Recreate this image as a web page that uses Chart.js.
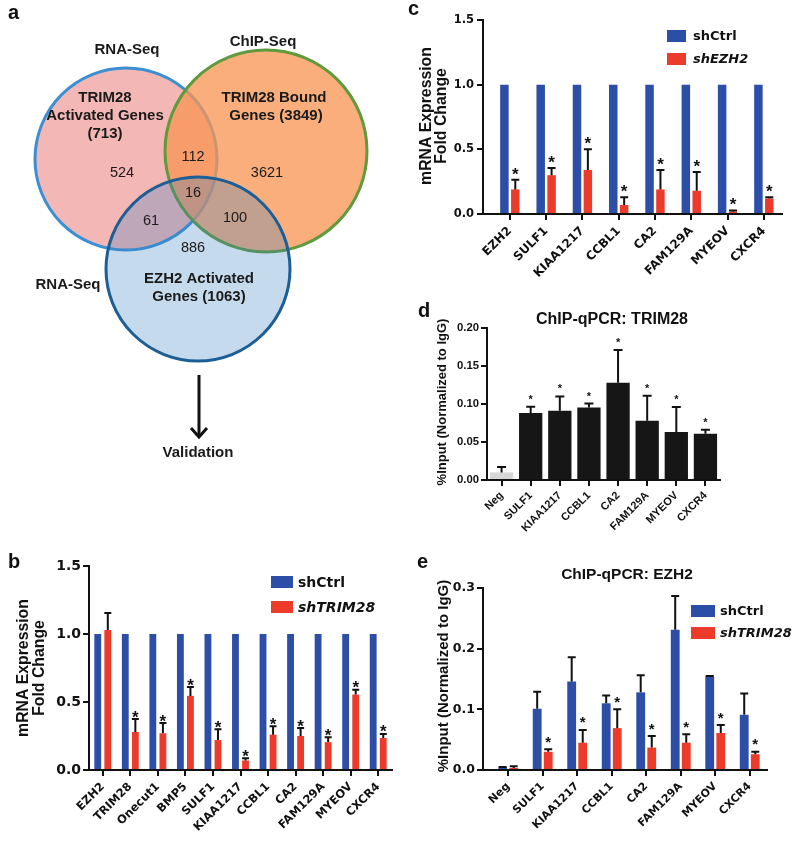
<!DOCTYPE html>
<html><head><meta charset="utf-8">
<script src="https://cdn.jsdelivr.net/npm/chart.js@4.4.1/dist/chart.umd.min.js"></script>
<style>
html,body{margin:0;padding:0;background:#fff;}
#wrap{position:relative;width:800px;height:843px;overflow:hidden;background:#fff;}
canvas{position:absolute;}
</style></head><body>
<div id="wrap">
<canvas id="ca" width="400" height="470" style="left:0;top:0"></canvas>
<canvas id="cb" width="400" height="303" style="left:0;top:540px"></canvas>
<canvas id="cc" width="400" height="300" style="left:400px;top:0"></canvas>
<canvas id="cd" width="400" height="240" style="left:400px;top:300px"></canvas>
<canvas id="ce" width="400" height="303" style="left:400px;top:540px"></canvas>
</div>
<script>
// ---------------- DATA ----------------
// Panel a: Venn diagram
const vennSetNames = ['TRIM28 Activated Genes', 'TRIM28 Bound Genes', 'EZH2 Activated Genes'];
const vennSetSizes = [713, 3849, 1063];
const vennSetSources = ['RNA-Seq', 'ChIP-Seq', 'RNA-Seq'];
// region counts: A only, B only, C only, A∩B, A∩C, B∩C, A∩B∩C
const vennRegionCounts = [524, 3621, 886, 112, 61, 100, 16];

// Panel b
const bGenes = ['EZH2','TRIM28','Onecut1','BMP5','SULF1','KIAA1217','CCBL1','CA2','FAM129A','MYEOV','CXCR4'];
const bShCtrl = [1,1,1,1,1,1,1,1,1,1,1];
const bShTRIM28 = [1.03,0.28,0.27,0.545,0.22,0.07,0.26,0.25,0.205,0.555,0.235];
const bShTRIM28Err = [1.155,0.375,0.345,0.61,0.30,0.086,0.322,0.308,0.24,0.59,0.265];
const bSig = [false,true,true,true,true,true,true,true,true,true,true];

// Panel c
const cGenes = ['EZH2','SULF1','KIAA1217','CCBL1','CA2','FAM129A','MYEOV','CXCR4'];
const cShCtrl = [1,1,1,1,1,1,1,1];
const cShEZH2 = [0.19,0.30,0.34,0.07,0.19,0.18,0.018,0.12];
const cShEZH2Err = [0.265,0.355,0.50,0.13,0.34,0.325,0.028,0.13];
const cSig = [true,true,true,true,true,true,true,true];

// Panel d
const dTargets = ['Neg','SULF1','KIAA1217','CCBL1','CA2','FAM129A','MYEOV','CXCR4'];
const dTRIM28 = [0.010,0.088,0.091,0.0955,0.128,0.078,0.063,0.061];
const dTRIM28Err = [0.017,0.0965,0.110,0.1005,0.171,0.111,0.096,0.066];
const dSig = [false,true,true,true,true,true,true,true];

// Panel e
const eTargets = ['Neg','SULF1','KIAA1217','CCBL1','CA2','FAM129A','MYEOV','CXCR4'];
const eShCtrl = [0.0044,0.101,0.146,0.110,0.128,0.231,0.154,0.091];
const eShCtrlErr = [0.005,0.129,0.186,0.123,0.156,0.287,0.155,0.126];
const eShTRIM28 = [0.0033,0.030,0.045,0.069,0.037,0.045,0.061,0.026];
const eShTRIM28Err = [0.006,0.034,0.066,0.100,0.056,0.059,0.074,0.030];
const eSig = [false,true,true,true,true,true,true,true];

// ---------------- STYLE ----------------
const BLUE = '#2D4EA6', RED = '#EC3B2A', INK = '#111111';
const DJ = '"DejaVu Sans", sans-serif';
const LS = '"Liberation Sans", Arial, sans-serif';

// ---------------- PLUGINS ----------------
const panelText = {
  id: 'panelText',
  afterDraw(chart, args, opts) {
    const ctx = chart.ctx;
    (opts.items || []).forEach(it => {
      ctx.save();
      ctx.font = it.font;
      ctx.fillStyle = it.color || INK;
      ctx.textAlign = it.align || 'center';
      ctx.textBaseline = it.baseline || 'middle';
      ctx.translate(it.x, it.y);
      if (it.rotate) ctx.rotate(it.rotate);
      ctx.fillText(it.text, 0, 0);
      ctx.restore();
    });
  }
};

const legendBox = {
  id: 'legendBox',
  afterDraw(chart, args, opts) {
    if (!opts || opts.x === undefined) return;
    const ctx = chart.ctx;
    chart.data.datasets.forEach((ds, i) => {
      const y = opts.y + i * opts.gap;
      ctx.save();
      ctx.fillStyle = ds.backgroundColor;
      ctx.fillRect(opts.x, y, opts.w, opts.h);
      ctx.fillStyle = INK;
      ctx.font = (ds.legendItalic ? 'italic ' : '') + 'bold ' + opts.size + 'px ' + DJ;
      ctx.textAlign = 'left';
      ctx.textBaseline = 'middle';
      ctx.fillText(ds.label, opts.x + opts.w + opts.textGap, y + opts.h / 2 + 1);
      ctx.restore();
    });
  }
};

const errBars = {
  id: 'errBars',
  afterDatasetsDraw(chart, args, opts) {
    const ctx = chart.ctx, ys = chart.scales.y;
    chart.data.datasets.forEach((ds, i) => {
      if (!ds.errUpper) return;
      const meta = chart.getDatasetMeta(i);
      meta.data.forEach((bar, j) => {
        const top = ys.getPixelForValue(ds.errUpper[j]);
        ctx.save();
        ctx.strokeStyle = opts.color || INK;
        ctx.lineWidth = opts.lineWidth;
        ctx.beginPath();
        ctx.moveTo(bar.x, bar.y);
        ctx.lineTo(bar.x, top);
        ctx.moveTo(bar.x - opts.cap / 2, top);
        ctx.lineTo(bar.x + opts.cap / 2, top);
        ctx.stroke();
        if (ds.sig && ds.sig[j]) {
          ctx.fillStyle = INK;
          ctx.font = opts.starFont;
          ctx.textAlign = 'center';
          ctx.textBaseline = 'alphabetic';
          ctx.fillText('*', bar.x, top - opts.starGap);
        }
        ctx.restore();
      });
    });
  }
};

const vennDecor = {
  id: 'vennDecor',
  afterDraw(chart, args, opts) {
    const ctx = chart.ctx, xs = chart.scales.x, ys = chart.scales.y;
    const a = opts.arrow;
    const x = xs.getPixelForValue(a.x), y0 = ys.getPixelForValue(a.y0), y1 = ys.getPixelForValue(a.y1);
    ctx.save();
    ctx.strokeStyle = INK; ctx.lineWidth = 3; ctx.lineCap = 'butt';
    ctx.beginPath(); ctx.moveTo(x, y0); ctx.lineTo(x, y1 - 1); ctx.stroke();
    ctx.beginPath(); ctx.moveTo(x - a.head, y1 - a.head - 1); ctx.lineTo(x, y1); ctx.lineTo(x + a.head, y1 - a.head - 1); ctx.stroke();
    ctx.restore();
    (opts.labels || []).forEach(it => {
      ctx.save();
      ctx.font = it.font; ctx.fillStyle = '#1a1a1a';
      ctx.textAlign = 'center'; ctx.textBaseline = 'middle';
      ctx.fillText(it.text, xs.getPixelForValue(it.x), ys.getPixelForValue(it.y));
      ctx.restore();
    });
  }
};

// ---------------- PANEL a (Venn) ----------------
const vennLayout = {
  circles: [ {cx:126, cy:159, r:91}, {cx:266, cy:151, r:101}, {cx:198, cy:269, r:92} ],
  fills: ['rgb(243,183,181)', 'rgba(247,150,85,0.77)', 'rgba(60,128,194,0.29)'],
  borders: ['#3b8fd3', '#5f9a3c', '#1c5e96'],
  regionPos: [[122,173],[267,173],[193,248],[193,157],[151,221],[235,218],[193,193]],
  setTitlePos: [[[105,98],[105,116],[105,134]], [[274,98],[276,116]], [[199,279],[199,297]]],
  sourcePos: [[127,50],[263,42],[68,285]]
};
const setTitleLines = [
  ['TRIM28', 'Activated Genes', '(' + vennSetSizes[0] + ')'],
  ['TRIM28 Bound', 'Genes (' + vennSetSizes[1] + ')'],
  ['EZH2 Activated', 'Genes (' + vennSetSizes[2] + ')']
];
const vennLabels = [];
const fBold = 'bold 15px ' + LS, fReg = '14.5px ' + LS;
vennSetSources.forEach((s, i) => vennLabels.push({text:s, x:vennLayout.sourcePos[i][0], y:vennLayout.sourcePos[i][1], font:fBold}));
setTitleLines.forEach((lines, i) => lines.forEach((t, k) => vennLabels.push({text:t, x:vennLayout.setTitlePos[i][k][0], y:vennLayout.setTitlePos[i][k][1], font:fBold})));
vennRegionCounts.forEach((n, i) => vennLabels.push({text:String(n), x:vennLayout.regionPos[i][0], y:vennLayout.regionPos[i][1], font:fReg}));
vennLabels.push({text:'Validation', x:198, y:453, font:fBold});

new Chart(document.getElementById('ca'), {
  type: 'bubble',
  data: {
    datasets: vennSetNames.map((name, i) => ({
      label: name,
      data: [{x: vennLayout.circles[i].cx, y: vennLayout.circles[i].cy, r: vennLayout.circles[i].r}],
      backgroundColor: vennLayout.fills[i],
      borderColor: vennLayout.borders[i],
      borderWidth: 3,
      clip: false,
      order: 3 - i
    }))
  },
  options: {
    responsive: false, animation: false, devicePixelRatio: 1, events: [],
    layout: {padding: 0, autoPadding: false},
    scales: {
      x: {type:'linear', min:0, max:400, display:false},
      y: {type:'linear', min:0, max:470, reverse:true, display:false}
    },
    plugins: {
      legend: {display:false}, tooltip: {enabled:false},
      vennDecor: {arrow: {x:199, y0:375, y1:437, head:8}, labels: vennLabels},
      panelText: {items: [{text:'a', x:8, y:19, font:'bold 20px ' + LS, align:'left', baseline:'alphabetic'}]}
    }
  },
  plugins: [vennDecor, panelText]
});

// ---------------- BAR CHART FACTORY ----------------
function barChart(id, cfg) {
  return new Chart(document.getElementById(id), {
    type: 'bar',
    data: {labels: cfg.labels, datasets: cfg.datasets},
    options: {
      responsive: false, animation: false, devicePixelRatio: 1, events: [],
      layout: {padding: cfg.padding, autoPadding: false},
      scales: {
        x: {
          type: 'category', offset: true,
          grid: {offset:false, drawOnChartArea:false, drawTicks:true, tickLength:6, color:INK, lineWidth:2},
          border: {display:true, color:INK, width:2},
          ticks: {autoSkip:false, minRotation:45, maxRotation:45, padding:cfg.xPad, color:INK, font:cfg.xFont},
          afterBuildTicks(s) { if (cfg.gap) { s._startValue -= cfg.gap; s._valueRange += cfg.gap; } },
          afterFit(s) { s.height = cfg.xHeight; }
        },
        y: {
          min: cfg.yMin, max: cfg.yMax,
          grid: {drawOnChartArea:false, drawTicks:true, tickLength:6, color:INK, lineWidth:2},
          border: {display:true, color:INK, width:2},
          ticks: {stepSize: cfg.yStep, padding:cfg.yPad || 2, color:INK, font:cfg.yFont, callback: v => Number(v).toFixed(cfg.yDec)},
          afterFit(s) { s.width = cfg.yWidth; }
        }
      },
      plugins: {
        legend: {display:false}, tooltip: {enabled:false},
        errBars: cfg.err,
        legendBox: cfg.legend || {},
        panelText: {items: cfg.texts}
      }
    },
    plugins: [errBars, legendBox, panelText]
  });
}

// ---------------- PANEL b ----------------
barChart('cb', {
  labels: bGenes,
  datasets: [
    {label:'shCtrl', data:bShCtrl, backgroundColor:BLUE, borderWidth:0, categoryPercentage:0.73, barPercentage:0.68},
    {label:'shTRIM28', data:bShTRIM28, errUpper:bShTRIM28Err, sig:bSig, legendItalic:true, backgroundColor:RED, borderWidth:0, categoryPercentage:0.73, barPercentage:0.68}
  ],
  padding: {top:26, right:8, left:0, bottom:0},
  yMin:0, yMax:1.5, yStep:0.5, yDec:1, yWidth:89, xHeight:73, xPad:4,
  xFont: {family:DJ, size:11.5, weight:'bold'},
  yFont: {family:DJ, size:14, weight:'bold'},
  err: {lineWidth:2, cap:7, starFont:'bold 17px ' + LS, starGap:-3.5},
  legend: {x:271, y:36, w:22, h:12, gap:25, textGap:5, size:14},
  texts: [
    {text:'b', x:8, y:28, font:'bold 20px ' + LS, align:'left', baseline:'alphabetic'},
    {text:'mRNA Expression', x:24, y:128, rotate:-Math.PI/2, font:'bold 15.8px ' + LS},
    {text:'Fold Change', x:40, y:128, rotate:-Math.PI/2, font:'bold 15.8px ' + LS}
  ]
});

// ---------------- PANEL c ----------------
barChart('cc', {
  labels: cGenes,
  datasets: [
    {label:'shCtrl', data:cShCtrl, backgroundColor:BLUE, borderWidth:0, categoryPercentage:0.6, barPercentage:0.78},
    {label:'shEZH2', data:cShEZH2, errUpper:cShEZH2Err, sig:cSig, legendItalic:true, backgroundColor:RED, borderWidth:0, categoryPercentage:0.6, barPercentage:0.78}
  ],
  padding: {top:20, right:18, left:0, bottom:0},
  gap: 0.24,
  yMin:0, yMax:1.5, yStep:0.5, yDec:1, yWidth:83, xHeight:86, xPad:4, yPad:3,
  xFont: {family:DJ, size:12, weight:'bold'},
  yFont: {family:DJ, size:11.5, weight:'bold'},
  err: {lineWidth:2, cap:8, starFont:'bold 17px ' + LS, starGap:0},
  legend: {x:267, y:30, w:19, h:12, gap:23, textGap:7, size:13},
  texts: [
    {text:'c', x:8, y:15, font:'bold 20px ' + LS, align:'left', baseline:'alphabetic'},
    {text:'mRNA Expression', x:27, y:116, rotate:-Math.PI/2, font:'bold 15.8px ' + LS},
    {text:'Fold Change', x:42, y:116, rotate:-Math.PI/2, font:'bold 15.8px ' + LS}
  ]
});

// ---------------- PANEL d ----------------
barChart('cd', {
  labels: dTargets,
  datasets: [
    {label:'TRIM28', data:dTRIM28, errUpper:dTRIM28Err, sig:dSig,
     backgroundColor: dTargets.map(t => t === 'Neg' ? '#d6d6d6' : '#161616'), borderWidth:0, categoryPercentage:0.8, barPercentage:1.0}
  ],
  padding: {top:28, right:80, left:0, bottom:0},
  yMin:0, yMax:0.2, yStep:0.05, yDec:2, yWidth:87, xHeight:60, xPad:3,
  xFont: {family:LS, size:11, weight:'bold'},
  yFont: {family:LS, size:11.3, weight:'bold'},
  err: {lineWidth:2, cap:9, starFont:'bold 11px ' + LS, starGap:4},
  legend: {},
  texts: [
    {text:'d', x:18, y:17, font:'bold 20px ' + LS, align:'left', baseline:'alphabetic'},
    {text:'ChIP-qPCR: TRIM28', x:212, y:20, font:'bold 16px ' + LS},
    {text:'%Input (Normalized to IgG)', x:42, y:102, rotate:-Math.PI/2, font:'bold 13px ' + LS}
  ]
});

// ---------------- PANEL e ----------------
barChart('ce', {
  labels: eTargets,
  datasets: [
    {label:'shCtrl', data:eShCtrl, errUpper:eShCtrlErr, backgroundColor:BLUE, borderWidth:0, categoryPercentage:0.64, barPercentage:0.8},
    {label:'shTRIM28', data:eShTRIM28, errUpper:eShTRIM28Err, sig:eSig, legendItalic:true, backgroundColor:RED, borderWidth:0, categoryPercentage:0.64, barPercentage:0.8}
  ],
  padding: {top:48, right:33, left:0, bottom:0},
  gap: 0.23,
  yMin:0, yMax:0.3, yStep:0.1, yDec:1, yWidth:83, xHeight:73, xPad:4,
  xFont: {family:DJ, size:11, weight:'bold'},
  yFont: {family:DJ, size:12.5, weight:'bold'},
  err: {lineWidth:2, cap:8, starFont:'bold 15px ' + LS, starGap:2.5},
  legend: {x:291, y:65, w:24, h:12, gap:22, textGap:5, size:13},
  texts: [
    {text:'e', x:17, y:28, font:'bold 20px ' + LS, align:'left', baseline:'alphabetic'},
    {text:'ChIP-qPCR: EZH2', x:227, y:35, font:'bold 15.5px ' + LS},
    {text:'%Input (Normalized to IgG)', x:44, y:136, rotate:-Math.PI/2, font:'bold 15px ' + LS}
  ]
});
</script>
</body></html>
